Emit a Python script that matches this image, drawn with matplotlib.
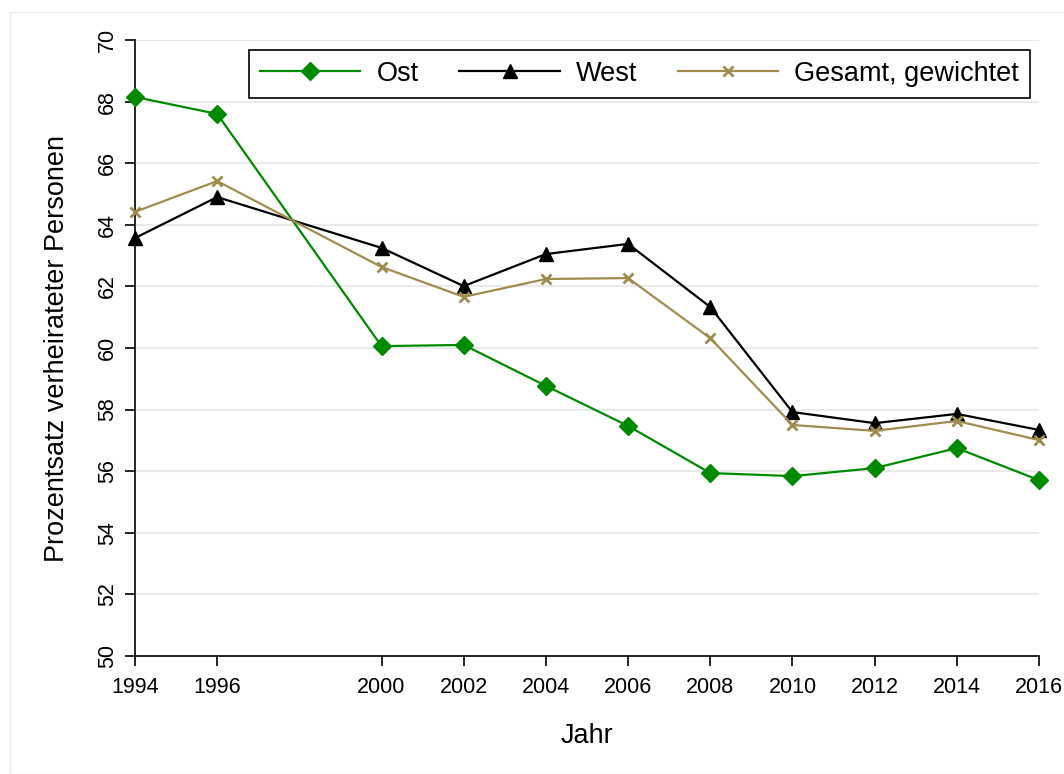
import matplotlib.pyplot as plt
from matplotlib.patches import Rectangle

plt.rcParams['font.family'] = ['Liberation Sans', 'DejaVu Sans']

jahre = [1994, 1996, 2000, 2002, 2004, 2006, 2008, 2010, 2012, 2014, 2016]
ost = [68.15, 67.6, 60.06, 60.1, 58.77, 57.47, 55.94, 55.84, 56.1, 56.75, 55.71]
west = [63.57, 64.9, 63.25, 62.01, 63.05, 63.38, 61.33, 57.92, 57.56, 57.86, 57.34]
gesamt = [64.42, 65.42, 62.63, 61.66, 62.24, 62.27, 60.32, 57.5, 57.31, 57.63, 57.01]
y_ticks = list(range(50, 71, 2))

fig = plt.figure(figsize=(10.64, 7.74), dpi=100)
# light outer frame like the Stata graph region
frame = Rectangle((10 / 1064, 0), 1.0, 1 - 12 / 774, transform=fig.transFigure,
                  facecolor='none', edgecolor='#e6ecec', lw=1.0, zorder=-10)
fig.add_artist(frame)
ax = fig.add_axes([135 / 1064, 118 / 774, 904 / 1064, 616 / 774])
ax.set_facecolor('none')

ax.plot(jahre, ost, color='#008a00', lw=1.6, marker='D', ms=9.5, label='Ost', clip_on=False, zorder=3)
ax.plot(jahre, west, color='black', lw=1.6, marker='^', ms=10, label='West', clip_on=False, zorder=3)
ax.plot(jahre, gesamt, color='#a08c4e', lw=1.6, marker='x', ms=7.5, mew=2, label='Gesamt, gewichtet',
        clip_on=False, zorder=3)

ax.set_xlim(1994, 2016)
ax.set_ylim(50, 70)
ax.set_xticks(jahre)
ax.set_yticks(y_ticks)
ax.tick_params(axis='both', direction='out', length=7, width=1.2, labelsize=15.5, colors='black')
ax.tick_params(axis='x', pad=8)
ax.tick_params(axis='y', pad=5)
for lbl in ax.get_yticklabels():
    lbl.set_rotation(90)
    lbl.set_va('center')
ax.grid(axis='y', color='#eaeaea', lw=1.5)
ax.set_axisbelow(True)
for s in ['top', 'right']:
    ax.spines[s].set_visible(False)
for s in ['left', 'bottom']:
    ax.spines[s].set_linewidth(1.2)

ax.set_xlabel('Jahr', fontsize=19.5, labelpad=18)
ax.set_ylabel('Prozentsatz verheirateter Personen', fontsize=19.5, labelpad=20)

leg = ax.legend(loc='upper right', ncol=3, fontsize=19.5, frameon=True, fancybox=False,
                edgecolor='black', handlelength=3.7, columnspacing=1.5, borderpad=0.4,
                handletextpad=0.6, framealpha=1, borderaxespad=0)
leg.set_bbox_to_anchor((1030 / 1064, 1 - 50 / 774), transform=fig.transFigure)
leg.get_frame().set_linewidth(1.2)

plt.savefig('out.png', dpi=100)
